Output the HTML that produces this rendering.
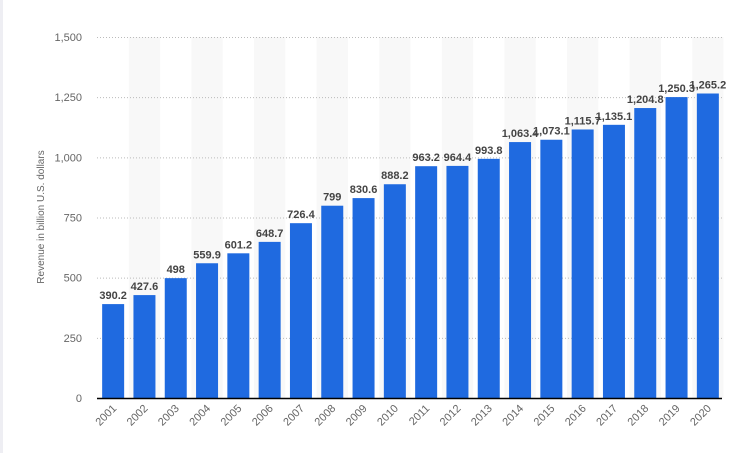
<!DOCTYPE html>
<html><head><meta charset="utf-8"><style>
body{margin:0;background:#fff;font-family:"Liberation Sans",sans-serif}
svg{display:block}
</style></head><body>
<svg id="c" width="730" height="453">
<rect x="0" y="0" width="3" height="453" fill="#eeeef3"/>
<g id="bands"></g><g id="grid"></g><g id="bars"></g><g id="labels"></g><g id="xt"></g><g id="yt"></g>
<line x1="97" y1="398.5" x2="722" y2="398.5" stroke="#000" stroke-width="1.5"/>
<text transform="translate(44,217) rotate(-90)" text-anchor="middle" font-size="10" fill="#666">Revenue in billion U.S. dollars</text>
</svg>
<script>
const years=["2001","2002","2003","2004","2005","2006","2007","2008","2009","2010","2011","2012","2013","2014","2015","2016","2017","2018","2019","2020"];
const values=[390.2,427.6,498,559.9,601.2,648.7,726.4,799,830.6,888.2,963.2,964.4,993.8,1063.4,1073.1,1115.7,1135.1,1204.8,1250.3,1265.2];
const valueLabels=["390.2","427.6","498","559.9","601.2","648.7","726.4","799","830.6","888.2","963.2","964.4","993.8","1,063.4","1,073.1","1,115.7","1,135.1","1,204.8","1,250.3","1,265.2"];
const yTicks=[0,250,500,750,1000,1250,1500];
const yTickLabels=["0","250","500","750","1,000","1,250","1,500"];
const NS="http://www.w3.org/2000/svg";
const x0=97.5,slot=31.3,bw=22;
const y=v=>398-v*361/1500;
const xc=i=>x0+slot*(i+0.5);
function mk(t,a,p){const e=document.createElementNS(NS,t);for(const k in a)e.setAttribute(k,a[k]);document.getElementById(p).appendChild(e);return e;}
yTicks.forEach((t,i)=>{
 if(t>0){const l=mk('line',{x1:97,x2:722,y1:y(t)+0.5,y2:y(t)+0.5,stroke:'#bbb','stroke-dasharray':'1,2'},'grid');
 
 }
 const tx=mk('text',{x:82,y:y(t)+4,'text-anchor':'end','font-size':11,fill:'#666'},'yt');tx.textContent=yTickLabels[i];
 
 
});
years.forEach((yr,i)=>{
 if(i%2==1){const b=mk('rect',{x:x0+slot*i,y:37,width:slot,height:361,fill:'#f8f8f8'},'bands');
 
 }
 const r=mk('rect',{x:xc(i)-bw/2,y:y(values[i]),width:bw,height:398-y(values[i]),fill:'#1f6ae0'},'bars');
 
 
 const l=mk('text',{x:xc(i),y:y(values[i])-5,'text-anchor':'middle','font-size':11,'font-weight':'bold',fill:'#444'},'labels');l.textContent=valueLabels[i];
 
 
 const t=mk('text',{transform:`translate(${xc(i)+4},${409}) rotate(-45)`,'text-anchor':'end','font-size':11,fill:'#666'},'xt');t.textContent=yr;
 
 
});
</script>
</body></html>
